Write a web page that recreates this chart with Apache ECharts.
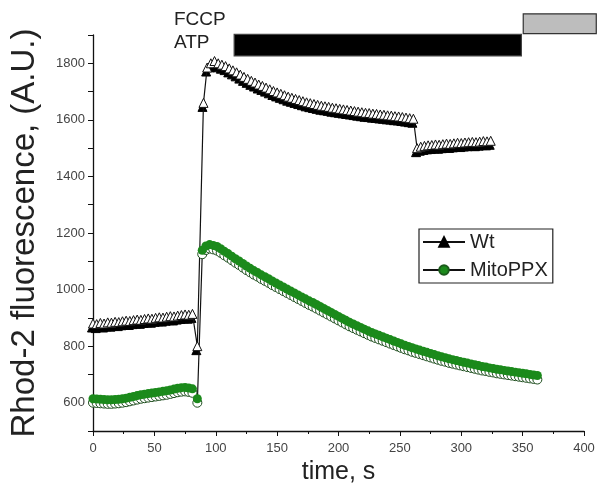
<!DOCTYPE html>
<html>
<head>
<meta charset="utf-8">
<script src="https://cdn.jsdelivr.net/npm/echarts@6/dist/echarts.min.js"></script>
<style>html,body{margin:0;padding:0;background:#fff}#c{width:600px;height:504px}</style>
</head>
<body>
<div id="c"></div>
<script>
// ---- data ----
const wtTime = [0,3,6,9,12,15,18,21,24,27,30,33,36,39,42,45,48,51,54,57,60,63,66,69,72,75,78,81,
  85,90,93,96,99,
  102,105,108,111,114,117,120,123,126,129,132,135,138,141,144,147,150,153,156,159,162,165,168,171,174,177,180,183,186,189,192,195,198,201,204,207,210,213,216,219,222,225,228,231,234,237,240,243,246,249,252,255,258,261,
  264,267,270,273,276,279,282,285,288,291,294,297,300,303,306,309,312,315,318,321,324];
const wtValues = [880,878,882,880,884,883,886,885,888,890,889,892,894,893,896,898,897,900,902,901,904,906,905,908,910,912,911,914,
  800,1660,1785,1800,1808,
  1800,1795,1790,1782,1775,1768,1760,1752,1745,1738,1732,1725,1720,1714,1708,1702,1697,1692,1687,1682,1678,1674,1670,1666,1662,1659,1656,1653,1650,1648,1646,1643,1641,1639,1637,1635,1633,1631,1629,1627,1625,1624,1622,1621,1619,1618,1616,1615,1613,1612,1610,1608,1606,1604,
  1500,1505,1508,1510,1511,1513,1512,1514,1516,1515,1517,1519,1518,1520,1521,1522,1521,1523,1525,1524,1526];

const mitoTime = [0,3,6,9,12,15,18,21,24,27,30,33,36,39,42,45,48,51,54,57,60,63,66,69,72,75,78,81,
  85,89,92,95,98,
  101,104,107,110,113,116,119,122,125,128,131,134,137,140,143,146,149,152,155,158,161,164,167,170,173,176,179,182,185,188,191,194,197,200,203,206,209,212,215,218,221,224,227,230,233,236,239,242,245,248,251,254,257,260,263,266,269,272,275,278,281,284,287,290,293,296,299,302,305,308,311,314,317,320,323,326,329,332,335,338,341,344,347,350,353,356,359,362];
const mitoValues = [600,599,598,597,596,596,597,598,600,602,605,608,611,614,616,618,620,622,624,626,628,631,634,637,639,640,638,635,
  600,1125,1140,1145,1142,
  1138,1130,1121,1113,1104,1095,1087,1078,1069,1061,1053,1046,1038,1031,1024,1016,1009,1002,995,988,981,974,967,960,953,946,940,933,926,919,912,905,898,891,884,877,870,864,858,852,846,840,834,829,824,819,814,809,804,799,794,789,785,780,776,772,768,764,760,756,752,748,745,741,738,735,732,729,726,723,720,717,714,712,709,707,704,702,700,698,696,694,692,690,688,686,684,682];

// treatment bars: [start s, end s, low, high]
const atpBar = [115, 349, 1826, 1902];
const fccpBar = [350.5, 410, 1905, 1975];

const xTicks = {min: 0, max: 400, interval: 50};
const yTicks = {min: 500, max: 1900, interval: 100};

const wtData = wtTime.map((t, i) => [t, wtValues[i]]);
const mitoData = mitoTime.map((t, i) => [t, mitoValues[i]]);

const chart = echarts.init(document.getElementById('c'), null, {renderer: 'canvas'});
const font = 'Liberation Sans, Arial, sans-serif';

function barRender(fill, stroke) {
  return function (params, api) {
    const p1 = api.coord([api.value(0), api.value(3)]);
    const p2 = api.coord([api.value(1), api.value(2)]);
    return {
      type: 'rect',
      shape: {x: p1[0], y: p1[1], width: p2[0] - p1[0], height: p2[1] - p1[1]},
      style: {fill: fill, stroke: stroke, lineWidth: 1.2}
    };
  };
}

chart.setOption({
  animation: false,
  backgroundColor: '#fff',
  grid: {left: 92, right: 16, top: 35, bottom: 73},
  xAxis: {
    type: 'value', min: xTicks.min, max: xTicks.max, interval: xTicks.interval,
    name: 'time, s', nameLocation: 'middle', nameGap: 25,
    nameTextStyle: {fontFamily: font, fontSize: 25, color: '#222'},
    axisLine: {lineStyle: {color: '#111', width: 1.3}},
    axisTick: {show: true, length: 5, lineStyle: {color: '#111'}},
    minorTick: {show: true, splitNumber: 2, length: 3, lineStyle: {color: '#111'}},
    axisLabel: {fontFamily: font, fontSize: 13, color: '#444', margin: 11},
    splitLine: {show: false}
  },
  yAxis: {
    type: 'value', min: yTicks.min, max: yTicks.max, interval: yTicks.interval,
    name: 'Rhod-2 fluorescence, (A.U.)', nameLocation: 'middle', nameGap: 52,
    nameTextStyle: {fontFamily: font, fontSize: 33, color: '#222'},
    axisLine: {show: true, lineStyle: {color: '#111', width: 1.3}},
    axisTick: {show: true, length: 5, lineStyle: {color: '#111'}},
    axisLabel: {fontFamily: font, fontSize: 13, color: '#444', margin: 8,
      formatter: v => (v % 200 === 0 && v >= 600 && v <= 1800) ? String(v) : ''},
    splitLine: {show: false}
  },
  legend: {
    data: [
      {name: 'Wt', itemStyle: {color: '#000', borderColor: '#000'}},
      {name: 'MitoPPX', itemStyle: {color: '#1b8a1b', borderColor: '#1b5a1b'}}
    ],
    orient: 'vertical', left: 419, top: 229,
    itemWidth: 42, itemHeight: 12, itemGap: 8,
    padding: [3, 5, 3, 3],
    borderColor: '#222', borderWidth: 1.2,
    textStyle: {fontFamily: font, fontSize: 20, color: '#222'}
  },
  series: [
    {
      name: 'WtShadow', type: 'line', data: wtData, symbol: 'triangle', symbolSize: 9,
      symbolOffset: [-1, 4], showAllSymbol: true, z: 2,
      lineStyle: {width: 0}, itemStyle: {color: '#000', borderColor: '#000', borderWidth: 1},
      silent: true
    },
    {
      name: 'Wt', type: 'line', data: wtData, symbol: 'triangle', symbolSize: 9,
      showAllSymbol: true, z: 3,
      lineStyle: {color: '#111', width: 1.2},
      itemStyle: {color: '#fff', borderColor: '#111', borderWidth: 1}
    },
    {
      name: 'MitoPPX', type: 'line', data: mitoData, symbol: 'circle', symbolSize: 9,
      showAllSymbol: true, z: 3,
      lineStyle: {color: '#111', width: 1.2},
      itemStyle: {color: '#fff', borderColor: '#1d4d1d', borderWidth: 1}
    },
    {
      name: 'MitoTop', type: 'line', data: mitoData, symbol: 'circle', symbolSize: 9,
      symbolOffset: [0, -4], showAllSymbol: true, z: 4,
      lineStyle: {width: 0}, itemStyle: {color: '#1b8a1b', borderColor: '#1b8a1b', borderWidth: 0},
      silent: true
    },
    {
      type: 'custom', name: 'ATP bar', data: [atpBar], clip: false, z: 5,
      renderItem: barRender('#000', '#444')
    },
    {
      type: 'custom', name: 'FCCP bar', data: [fccpBar], clip: false, z: 5,
      renderItem: barRender('#bdbdbd', '#333')
    }
  ],
  graphic: [
    {type: 'text', left: 174, top: 10, style: {text: 'FCCP', fontFamily: font, fontSize: 19, fill: '#222'}},
    {type: 'text', left: 174, top: 33, style: {text: 'ATP', fontFamily: font, fontSize: 19, fill: '#222'}}
  ]
});
</script>
</body>
</html>
